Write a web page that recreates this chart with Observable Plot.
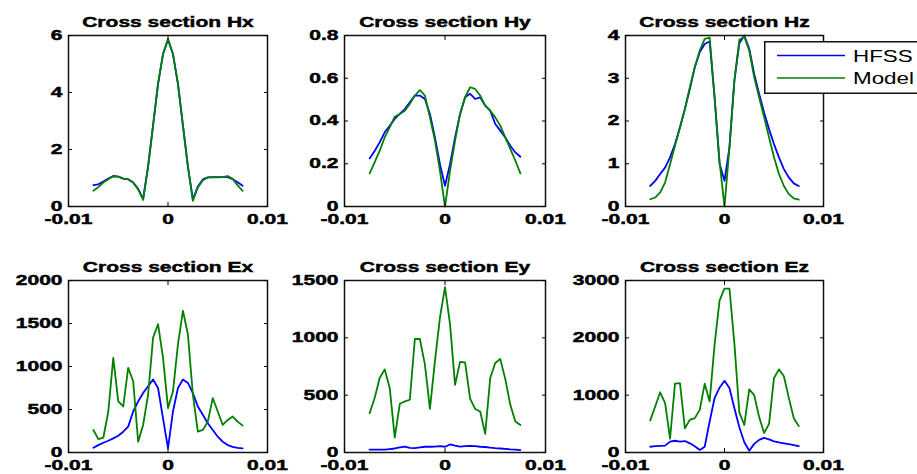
<!DOCTYPE html>
<html><head><meta charset="utf-8">
<script src="https://cdn.jsdelivr.net/npm/d3@7"></script>
<script src="https://cdn.jsdelivr.net/npm/@observablehq/plot@0.6"></script>
<style>
body{margin:0;background:#fff;}
#chart{position:relative;width:917px;height:474px;overflow:hidden;background:#fff;font-family:"Liberation Sans",Arial,sans-serif;}
#chart svg{position:absolute;}
#chart svg.panel text{stroke:#000;stroke-width:0.45px;}
</style></head><body><div id="chart"></div>
<script>
// ---- data ----
const xPos = [-0.0075,-0.007,-0.0065,-0.006,-0.0055,-0.005,-0.0045,-0.004,-0.0035,-0.003,-0.0025,-0.002,-0.0015,-0.001,-0.0005,0,0.0005,0.001,0.0015,0.002,0.0025,0.003,0.0035,0.004,0.0045,0.005,0.0055,0.006,0.0065,0.007,0.0075];
const seriesNames = ["HFSS", "Model"];
const seriesColors = ["#0000ff", "#008000"];
const titles = ["Cross section Hx","Cross section Hy","Cross section Hz","Cross section Ex","Cross section Ey","Cross section Ez"];

const hxHFSS  = [0.75,0.78,0.88,0.98,1.07,1.05,0.98,0.95,0.84,0.62,0.27,1.4,2.85,4.3,5.35,5.85,5.35,4.3,2.85,1.4,0.25,0.7,0.95,1.02,1.03,1.03,1.03,1.03,0.96,0.85,0.73];
const hxModel = [0.55,0.68,0.84,0.96,1.06,1.05,0.98,0.96,0.84,0.6,0.23,1.4,2.85,4.3,5.35,5.88,5.35,4.3,2.85,1.4,0.2,0.67,0.92,1.02,1.02,1.02,1.03,1.07,0.97,0.74,0.55];
const hyHFSS  = [0.225,0.26,0.30,0.347,0.378,0.41,0.433,0.456,0.488,0.519,0.519,0.503,0.433,0.323,0.198,0.097,0.198,0.323,0.433,0.511,0.527,0.503,0.511,0.472,0.448,0.386,0.355,0.323,0.284,0.253,0.233];
const hyModel = [0.155,0.206,0.261,0.323,0.37,0.42,0.433,0.448,0.48,0.519,0.545,0.519,0.417,0.308,0.167,0,0.167,0.308,0.433,0.511,0.558,0.55,0.519,0.472,0.448,0.417,0.378,0.323,0.27,0.214,0.155];
const hzHFSS  = [0.48,0.6,0.76,0.91,1.15,1.46,1.85,2.28,2.75,3.26,3.61,3.8,3.86,2.55,1.0,0.6,1.38,2.95,3.82,4.0,3.69,3.1,2.63,2.2,1.81,1.46,1.15,0.875,0.68,0.54,0.48];
const hzModel = [0.17,0.21,0.33,0.56,0.99,1.42,1.85,2.28,2.79,3.26,3.65,3.92,3.95,2.55,1.05,0,1.38,2.95,3.9,3.97,3.65,3.02,2.55,2.09,1.62,1.15,0.76,0.48,0.29,0.19,0.16];
const exHFSS  = [55,86,113,137,164,195,242,301,477,594,691,770,848,750,398,47,477,750,848,809,691,535,438,340,262,184,125,86,66,55,47];
const exModel = [262,156,172,477,1101,594,535,984,828,125,320,672,1336,1492,1101,516,711,1258,1648,1375,672,242,262,359,633,477,320,379,418,359,312];
const eyHFSS  = [25,25,25,25,30,35,45,52,40,38,45,50,50,52,55,50,70,60,52,56,58,55,50,48,42,38,35,32,28,25,20];
const eyModel = [343,475,650,725,563,130,425,445,460,990,990,768,380,797,1178,1442,1119,590,790,785,470,380,357,163,650,780,815,640,416,270,240];
const ezHFSS  = [100,110,115,120,190,205,190,200,160,110,45,100,540,950,1130,1250,1125,773,440,180,30,150,220,255,230,195,175,160,145,130,110];
const ezModel = [560,803,1050,861,240,1200,1210,420,570,600,744,1200,891,1887,2649,2860,2860,1900,700,480,1100,1000,620,340,500,1300,1450,1330,949,598,460];

const xTicks = [-0.01, 0, 0.01];
const hxTicks = [0, 2, 4, 6];
const hyTicks = [0, 0.2, 0.4, 0.6, 0.8];
const hzTicks = [0, 1, 2, 3, 4];
const exTicks = [0, 500, 1000, 1500, 2000];
const eyTicks = [0, 500, 1000, 1500];
const ezTicks = [0, 1000, 2000, 3000];

// ---- layout ----
const panels = [
  {title: titles[0], a: hxHFSS, b: hxModel, ticks: hxTicks, L: 68,  R: 267, T: 35,  B: 206},
  {title: titles[1], a: hyHFSS, b: hyModel, ticks: hyTicks, L: 344, R: 545, T: 35,  B: 206},
  {title: titles[2], a: hzHFSS, b: hzModel, ticks: hzTicks, L: 625, R: 823, T: 35,  B: 206},
  {title: titles[3], a: exHFSS, b: exModel, ticks: exTicks, L: 68,  R: 267, T: 280, B: 452},
  {title: titles[4], a: eyHFSS, b: eyModel, ticks: eyTicks, L: 344, R: 545, T: 280, B: 452},
  {title: titles[5], a: ezHFSS, b: ezModel, ticks: ezTicks, L: 625, R: 823, T: 280, B: 452}
];
const fmt = d => d === 0 ? "0" : String(d);
const chart = document.getElementById("chart");
const mL = 68, mR = 30, mT = 35, mB = 30;

function stretch(svg, factorFor) {
  svg.querySelectorAll("text").forEach(t => {
    const f = factorFor(t);
    const len = t.getComputedTextLength();
    if (len > 0) {
      t.setAttribute("textLength", (len * f).toFixed(1));
      t.setAttribute("lengthAdjust", "spacingAndGlyphs");
    }
  });
}

panels.forEach(p => {
  const rows = [];
  xPos.forEach((x, i) => rows.push({x, y: p.a[i], s: seriesNames[0]}));
  xPos.forEach((x, i) => rows.push({x, y: p.b[i], s: seriesNames[1]}));
  const fw = p.R - p.L, fh = p.B - p.T;
  const svg = Plot.plot({
    width: fw + mL + mR, height: fh + mT + mB,
    marginLeft: mL, marginRight: mR, marginTop: mT, marginBottom: mB,
    className: "panel",
    style: {background: "transparent", fontFamily: '"Liberation Sans", Arial, sans-serif', fontSize: "14px", fontWeight: "bold", color: "#000", overflow: "visible"},
    x: {domain: [-0.01, 0.01]},
    y: {domain: [0, p.ticks[p.ticks.length - 1]]},
    color: {domain: seriesNames, range: seriesColors},
    marks: [
      Plot.line(rows, {x: "x", y: "y", stroke: "s", strokeWidth: 1.8}),
      Plot.frame({stroke: "#111", strokeWidth: 1.5}),
      Plot.axisX(xTicks, {tickSize: -4, tickPadding: 12, tickFormat: fmt, label: null}),
      Plot.axisX(xTicks, {anchor: "top", tickSize: -4, fill: "none", label: null}),
      Plot.axisY(p.ticks, {tickSize: -4, tickPadding: 10, tickFormat: fmt, label: null}),
      Plot.axisY(p.ticks, {anchor: "right", tickSize: -4, fill: "none", label: null}),
      Plot.text([p.title], {frameAnchor: "top", dy: -19, text: d => d, fontSize: 15, fontWeight: "bold", fill: "#000"})
    ]
  });
  svg.classList.add("panel");
  svg.style.left = (p.L - mL) + "px";
  svg.style.top = (p.T - mT) + "px";
  chart.appendChild(svg);
  stretch(svg, t => t.closest('g[aria-label="text"]') ? 1.4 : 1.5);
});

// ---- legend ----
const NS = "http://www.w3.org/2000/svg";
const leg = document.createElementNS(NS, "svg");
leg.setAttribute("width", 160); leg.setAttribute("height", 54);
leg.style.left = "764px"; leg.style.top = "41px";
const rect = document.createElementNS(NS, "rect");
Object.entries({x: 0.75, y: 0.75, width: 180, height: 51.5, fill: "#fff", stroke: "#111", "stroke-width": 1.5}).forEach(([k, v]) => rect.setAttribute(k, v));
leg.appendChild(rect);
seriesNames.forEach((name, i) => {
  const yy = 14.5 + i * 22.5;
  const ln = document.createElementNS(NS, "line");
  Object.entries({x1: 13, x2: 81, y1: yy, y2: yy, stroke: seriesColors[i], "stroke-width": 1.6}).forEach(([k, v]) => ln.setAttribute(k, v));
  leg.appendChild(ln);
  const tx = document.createElementNS(NS, "text");
  Object.entries({x: 89, y: yy + 6, "font-size": 16, "font-family": '"Liberation Sans", Arial, sans-serif', fill: "#000"}).forEach(([k, v]) => tx.setAttribute(k, v));
  tx.textContent = name;
  leg.appendChild(tx);
});
chart.appendChild(leg);
stretch(leg, () => 1.4);
</script>
</body></html>
